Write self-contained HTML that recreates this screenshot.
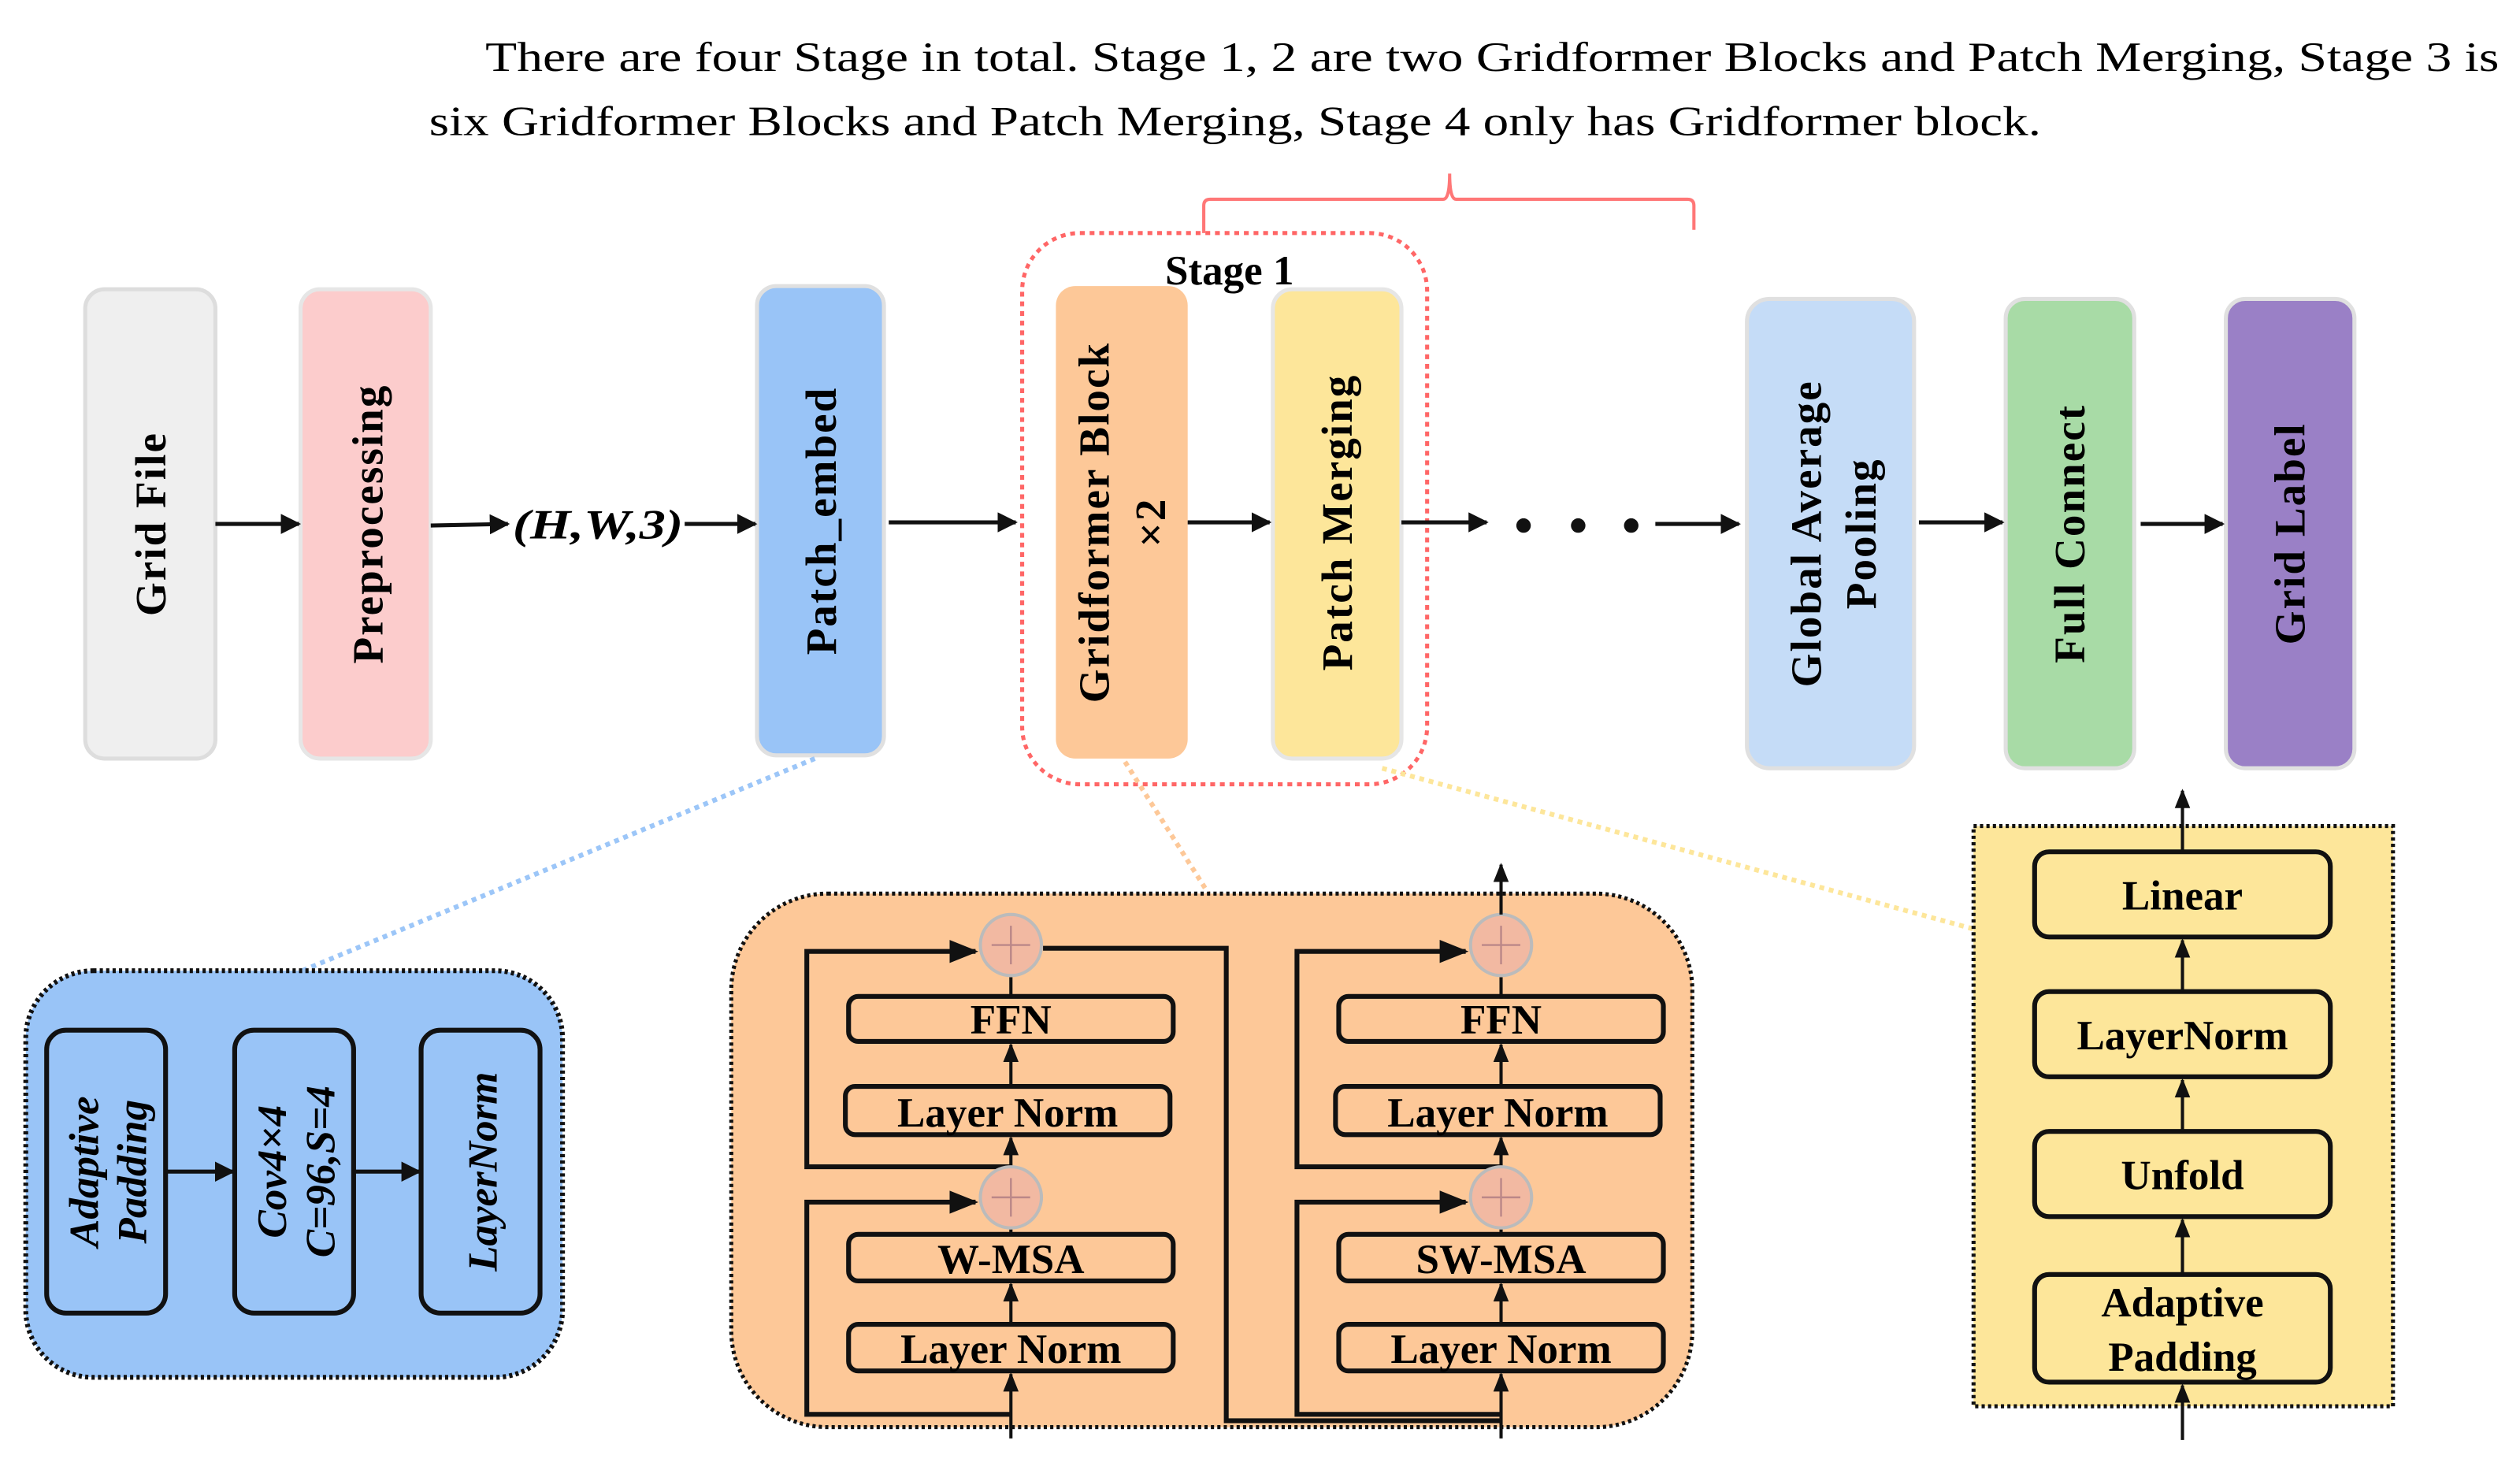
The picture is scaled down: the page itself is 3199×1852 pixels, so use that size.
<!DOCTYPE html>
<html><head><meta charset="utf-8"><style>
html,body{margin:0;padding:0;background:#fff;}
svg{display:block;}
.s{font-family:"Liberation Serif",serif;}
.v{font-family:"Liberation Serif",serif;font-weight:bold;font-size:27px;letter-spacing:1px;}
.b{font-family:"Liberation Serif",serif;font-weight:bold;font-size:26px;}
</style></head><body>
<svg width="3199" height="1852" viewBox="0 0 1568 907.8" xmlns="http://www.w3.org/2000/svg">
<defs>
<marker id="a" viewBox="0 0 10 10" refX="9" refY="5" markerWidth="5" markerHeight="5" orient="auto"><path d="M0,0L10,5L0,10z" fill="#111"/></marker>
<marker id="s" viewBox="0 0 10 10" refX="9" refY="5" markerWidth="6" markerHeight="6" orient="auto"><path d="M0,1L10,5L0,9z" fill="#111"/></marker>
</defs>
<text class="s" x="302" y="44" font-size="26" textLength="1253" lengthAdjust="spacingAndGlyphs">There are four Stage in total. Stage 1, 2 are two Gridformer Blocks and Patch Merging, Stage 3 is</text>
<text class="s" x="267" y="84" font-size="26" textLength="1003" lengthAdjust="spacingAndGlyphs">six Gridformer Blocks and Patch Merging, Stage 4 only has Gridformer block.</text>
<path d="M749,145V128Q749,124 753,124H898Q902,124 902,108Q902,124 906,124H1050Q1054,124 1054,128V143" fill="none" stroke="#f77" stroke-width="2"/>
<rect x="636" y="145" width="252" height="343" rx="36" fill="none" stroke="#f66" stroke-width="2.5" stroke-dasharray="3,3"/>
<text class="b" x="765" y="177" text-anchor="middle">Stage 1</text>
<g stroke-width="2.5">
<rect x="53" y="180" width="81" height="292" rx="12" fill="#efefef" stroke="#ddd"/>
<rect x="187" y="180" width="81" height="292" rx="12" fill="#fccccc" stroke="#e6e6e6"/>
<rect x="471" y="178" width="79" height="292" rx="12" fill="#99c4f7" stroke="#e0e0e0"/>
<rect x="657" y="178" width="82" height="294" rx="12" fill="#fdc898" stroke="none"/>
<rect x="792" y="180" width="80" height="292" rx="12" fill="#fde69a" stroke="#e6e6e6"/>
<rect x="1087" y="186" width="104" height="292" rx="14" fill="#c5dcf7" stroke="#e0e0e0"/>
<rect x="1248" y="186" width="80" height="292" rx="12" fill="#a8dba6" stroke="#e0e0e0"/>
<rect x="1385" y="186" width="80" height="292" rx="12" fill="#9a80c6" stroke="#e0e0e0"/>
</g>
<g class="v" text-anchor="middle">
<text transform="translate(103,326) rotate(-90)">Grid File</text>
<text transform="translate(238,326) rotate(-90)">Preprocessing</text>
<text transform="translate(520,324) rotate(-90)">Patch_embed</text>
<text transform="translate(690,325) rotate(-90)">Gridformer Block</text>
<text transform="translate(725,325) rotate(-90)">×2</text>
<text transform="translate(841,325) rotate(-90)">Patch Merging</text>
<text transform="translate(1133,332) rotate(-90)">Global Average</text>
<text transform="translate(1167,332) rotate(-90)">Pooling</text>
<text transform="translate(1297,332) rotate(-90)">Full Connect</text>
<text transform="translate(1434,332) rotate(-90)">Grid Label</text>
</g>
<text class="b" x="319" y="335" font-style="italic" font-size="30" textLength="106" lengthAdjust="spacingAndGlyphs">(H,W,3)</text>
<g stroke="#111" stroke-width="2.5" marker-end="url(#a)">
<line x1="134" y1="326" x2="186" y2="326"/><line x1="268" y1="327" x2="316" y2="326"/>
<line x1="426" y1="326" x2="470" y2="326"/><line x1="553" y1="325" x2="632" y2="325"/>
<line x1="739" y1="325" x2="790" y2="325"/><line x1="872" y1="325" x2="925" y2="325"/>
<line x1="1030" y1="326" x2="1082" y2="326"/><line x1="1194" y1="325" x2="1246" y2="325"/>
<line x1="1332" y1="326" x2="1383" y2="326"/>
</g>
<circle cx="948" cy="327" r="4.5" fill="#111"/><circle cx="982" cy="327" r="4.5" fill="#111"/><circle cx="1015" cy="327" r="4.5" fill="#111"/>
<g stroke-width="3" stroke-dasharray="3,3">
<line x1="507" y1="472" x2="188" y2="604" stroke="#9cc6f8"/>
<line x1="700" y1="474" x2="752" y2="556" stroke="#fdc898"/>
<line x1="860" y1="478" x2="1228" y2="578" stroke="#fde69a"/>
</g>
<rect x="16" y="604" width="334" height="253" rx="42" fill="#99c4f7" stroke="#111" stroke-width="3" stroke-dasharray="2,2"/>
<g fill="none" stroke="#111" stroke-width="3">
<rect x="29" y="641" width="74" height="176" rx="12"/><rect x="146" y="641" width="74" height="176" rx="12"/><rect x="262" y="641" width="74" height="176" rx="12"/>
</g>
<g stroke="#111" stroke-width="2.5" marker-end="url(#a)"><line x1="103" y1="729" x2="145" y2="729"/><line x1="220" y1="729" x2="261" y2="729"/></g>
<g class="b" font-style="italic" font-size="23" text-anchor="middle">
<text transform="translate(61,729) rotate(-90)">Adaptive</text>
<text transform="translate(91,729) rotate(-90)">Padding</text>
<text transform="translate(178,729) rotate(-90)">Cov4×4</text>
<text transform="translate(208,729) rotate(-90)">C=96,S=4</text>
<text transform="translate(309,729) rotate(-90)" font-size="26">LayerNorm</text>
</g>
<rect x="455" y="556" width="598" height="332" rx="60" fill="#fdc898" stroke="#111" stroke-width="2.5" stroke-dasharray="2,2"/>
<g id="col">
<g fill="none" stroke="#111" stroke-width="3">
<rect x="528" y="620" width="202" height="28" rx="6"/><rect x="526" y="676" width="202" height="30" rx="6"/>
<rect x="528" y="768" width="202" height="29" rx="6"/><rect x="528" y="824" width="202" height="29" rx="6"/>
</g>
<g stroke="#111" stroke-width="2" fill="none">
<line x1="629" y1="895" x2="629" y2="855" marker-end="url(#s)"/>
<line x1="629" y1="824" x2="629" y2="799" marker-end="url(#s)"/>
<line x1="629" y1="768" x2="629" y2="765"/>
<line x1="629" y1="726" x2="629" y2="708" marker-end="url(#s)"/>
<line x1="629" y1="676" x2="629" y2="650" marker-end="url(#s)"/>
<line x1="629" y1="620" x2="629" y2="608"/>
</g>
<g stroke="#111" stroke-width="3" fill="none">
<polyline points="629,880 502,880 502,748 607,748" marker-end="url(#s)"/>
<polyline points="629,726 502,726 502,592 607,592" marker-end="url(#s)"/>
</g>
<circle cx="629" cy="745" r="19" fill="#f2b9a2" stroke="#bbb" stroke-width="2"/>
<circle cx="629" cy="588" r="19" fill="#f2b9a2" stroke="#bbb" stroke-width="2"/>
<g stroke="#b88" stroke-width="1.2"><line x1="617" y1="745" x2="641" y2="745"/><line x1="629" y1="733" x2="629" y2="757"/><line x1="617" y1="588" x2="641" y2="588"/><line x1="629" y1="576" x2="629" y2="600"/></g>
</g>
<use href="#col" transform="translate(305,0)"/>
<g class="b" text-anchor="middle" font-size="25">
<text x="629" y="643">FFN</text><text x="627" y="701">Layer Norm</text><text x="629" y="792">W-MSA</text><text x="629" y="848">Layer Norm</text>
<text x="934" y="643">FFN</text><text x="932" y="701">Layer Norm</text><text x="934" y="792">SW-MSA</text><text x="934" y="848">Layer Norm</text>
</g>
<g stroke="#111" stroke-width="3" fill="none"><polyline points="649,590 763,590 763,884 934,884"/></g>
<line x1="934" y1="569" x2="934" y2="538" stroke="#111" stroke-width="2" marker-end="url(#s)"/>
<rect x="1228" y="514" width="261" height="361" fill="#fde69a" stroke="#111" stroke-width="2.5" stroke-dasharray="2,2"/>
<g fill="none" stroke="#111" stroke-width="3">
<rect x="1266" y="530" width="184" height="53" rx="9"/><rect x="1266" y="617" width="184" height="53" rx="9"/>
<rect x="1266" y="704" width="184" height="53" rx="9"/><rect x="1266" y="793" width="184" height="67" rx="9"/>
</g>
<g stroke="#111" stroke-width="2" fill="none">
<line x1="1358" y1="530" x2="1358" y2="492" marker-end="url(#s)"/>
<line x1="1358" y1="617" x2="1358" y2="585" marker-end="url(#s)"/>
<line x1="1358" y1="704" x2="1358" y2="672" marker-end="url(#s)"/>
<line x1="1358" y1="793" x2="1358" y2="759" marker-end="url(#s)"/>
<line x1="1358" y1="896" x2="1358" y2="862" marker-end="url(#s)"/>
</g>
<g class="b" text-anchor="middle" font-size="25">
<text x="1358" y="566">Linear</text><text x="1358" y="653">LayerNorm</text><text x="1358" y="740">Unfold</text>
<text x="1358" y="819">Adaptive</text><text x="1358" y="853">Padding</text>
</g>
</svg>
</body></html>
